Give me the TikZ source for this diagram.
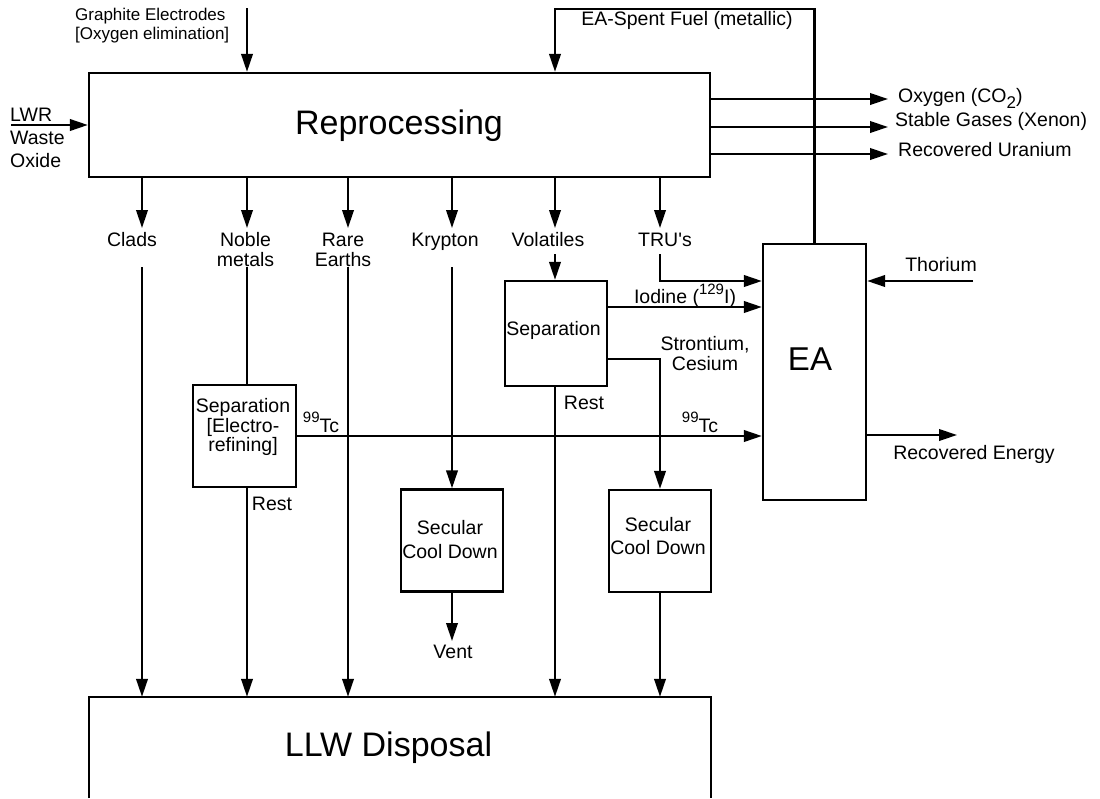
\documentclass[tikz,border=0pt]{standalone}
\usepackage{fontspec}
\setmainfont{Liberation Sans}
\usetikzlibrary{arrows.meta}
\newcommand{\upnum}[1]{\raisebox{0.48em}{\fontsize{15}{15}\selectfont #1}}
\newcommand{\dnnum}[1]{\raisebox{-0.3em}{\fontsize{17}{17}\selectfont #1}}
\begin{document}
\begin{tikzpicture}[x={(1pt,0pt)},y={(0pt,-1pt)},
  line/.style={line width=2.3pt},
  arr/.style={line width=2.3pt,-{Triangle[length=18pt,width=11.5pt]}},
  box/.style={draw,line width=2.3pt,inner sep=0pt,minimum width=102pt,minimum height=102pt},
  lab/.style={inner sep=0pt,font=\fontsize{19.5}{20}\selectfont,align=center},
  small/.style={inner sep=0pt,font=\fontsize{17}{19}\selectfont,align=left},
  big/.style={inner sep=0pt,font=\fontsize{34}{40}\selectfont}]
\useasboundingbox (0,0) rectangle (1100,798);
% main boxes
\node[draw,line width=2.3pt,inner sep=0pt,minimum width=621pt,minimum height=104pt] (rep) at (399.5,125) {};
\node[big] (rept) at (399,125.5) {Reprocessing};
\node[inner sep=0pt,minimum width=622pt,minimum height=101pt] (llw) at (400,747.5) {};
\draw[line] (llw.south west) -- (llw.north west) -- (llw.north east) -- (llw.south east);
\node[big] (llwt) at (388.5,748) {LLW Disposal};
\node[box,minimum width=103pt,minimum height=256pt] (ea) at (814.5,372) {};
\node[inner sep=0pt,font=\fontsize{33}{38}\selectfont] (eat) at (810,359) {EA};
\node[box,minimum height=105pt] (sepv) at (556,333.5) {};
\node[lab] (sepvt) at (553.5,330.5) {Separation};
\node[box,minimum width=103pt] (sepe) at (244.5,436) {};
\node[lab,font=\fontsize{19.5}{19.5}\selectfont] (sepet) at (243,427) {Separation\\{}[Electro-\\refining]};
\node[box] (sc1) at (452,540.5) {};
\node[lab,font=\fontsize{19.5}{23.5}\selectfont] (sc1t) at (450,539.5) {Secular\\Cool Down};
\node[box] (sc2) at (660,541) {};
\node[lab,font=\fontsize{19.5}{23.5}\selectfont] (sc2t) at (658,536) {Secular\\Cool Down};

% inputs to reprocessing
\coordinate (g0) at (247,8);
\draw[arr] (g0) -- (g0 |- rep.north);
\node[small,anchor=west] (grt) at (75,26) {Graphite Electrodes\\{}[Oxygen elimination]};
\coordinate (lw0) at (11,125);
\draw[arr] (lw0) -- (rep.west);
\node[lab,anchor=west,align=left,font=\fontsize{19.5}{23}\selectfont] (lwrt) at (10,138) {LWR\\Waste\\Oxide};
\coordinate (topc) at (0,9);
\coordinate (xv) at (555,0);
\draw[arr] (ea.north) -- (ea.north |- topc) -- (xv |- topc) -- (xv |- rep.north);
\node[lab] (spt) at (687,20) {EA-Spent Fuel (metallic)};

% outputs to the right
\coordinate (o1) at (888,99);
\coordinate (o2) at (888,127);
\coordinate (o3) at (888,154);
\draw[arr] (rep.east |- o1) -- (o1);
\draw[arr] (rep.east |- o2) -- (o2);
\draw[arr] (rep.east |- o3) -- (o3);
\node[lab,anchor=west] (o1t) at (898,98.5) {Oxygen (CO\dnnum{2})};
\node[lab,anchor=west] (o2t) at (895,121.5) {Stable Gases (Xenon)};
\node[lab,anchor=west] (o3t) at (898,149.5) {Recovered Uranium};

% downward streams
\coordinate (d1) at (142,228);
\coordinate (d2) at (247,228);
\coordinate (d3) at (348,228);
\coordinate (d4) at (452,228);
\coordinate (d5) at (555,228);
\coordinate (d6) at (660,228);
\draw[arr] (rep.south -| d1) -- (d1);
\draw[arr] (rep.south -| d2) -- (d2);
\draw[arr] (rep.south -| d3) -- (d3);
\draw[arr] (rep.south -| d4) -- (d4);
\draw[arr] (rep.south -| d5) -- (d5);
\draw[arr] (rep.south -| d6) -- (d6);
\node[lab] (cladst) at (132,239.5) {Clads};
\node[lab] (noblet) at (245.5,250) {Noble\\metals};
\node[lab] (raret) at (343,250) {Rare\\Earths};
\node[lab] (kryt) at (445,241.5) {Krypton};
\node[lab] (volt) at (548,240) {Volatiles};
\node[lab] (trut) at (665,240) {TRU\textquotesingle s};

\coordinate (c1) at (142,267);
\coordinate (c2) at (247,267);
\coordinate (c3) at (348,267);
\coordinate (c4) at (452,267);
\coordinate (c5) at (555,254);
\coordinate (c6) at (660,254);
\draw[arr] (c1) -- (c1 |- llw.north);
\draw[line] (c2) -- (c2 |- sepe.north);
\draw[arr] (c2 |- sepe.south) -- (c2 |- llw.north);
\draw[arr] (c3) -- (c3 |- llw.north);
\draw[arr] (c4) -- (sc1.north);
\draw[arr] (c5) -- (c5 |- sepv.north);
\coordinate (tr) at (660,281);
\draw[arr] (c6) -- (tr) -- (ea.west |- tr);

% separation (volatiles) outputs
\coordinate (io) at (607,307);
\draw[arr] (sepv.east |- io) -- (ea.west |- io);
\node[lab] (iot) at (685,296) {Iodine (\upnum{129}I)};
\coordinate (sr) at (660,359);
\draw[arr] (sepv.east |- sr) -- (sr) -- (sc2.north);
\node[lab] (srt) at (705,354) {Strontium,\\Cesium};
\draw[arr] (sepv.south -| xv) -- (xv |- llw.north);
\node[lab] (rest1) at (584,402.5) {Rest};

% separation (electro-refining)
\draw[arr] (sepe.east) -- (ea.west |- sepe.east);
\node[lab] (tc1) at (321,422.5) {\upnum{99}Tc};
\node[lab] (tc2) at (700,422.5) {\upnum{99}Tc};
\node[lab] (rest2) at (272,503.5) {Rest};

% secular cool down outputs
\coordinate (vt) at (452,641);
\draw[arr] (sc1.south) -- (vt);
\node[lab] (ventt) at (453,652) {Vent};
\draw[arr] (sc2.south) -- (sc2.south |- llw.north);

% EA side
\coordinate (th) at (973,281);
\draw[arr] (th) -- (ea.east |- th);
\node[lab] (tht) at (941,265) {Thorium};
\coordinate (re) at (957,435);
\draw[arr] (ea.east |- re) -- (re);
\node[lab] (ret) at (974,454) {Recovered Energy};
\end{tikzpicture}
\end{document}
